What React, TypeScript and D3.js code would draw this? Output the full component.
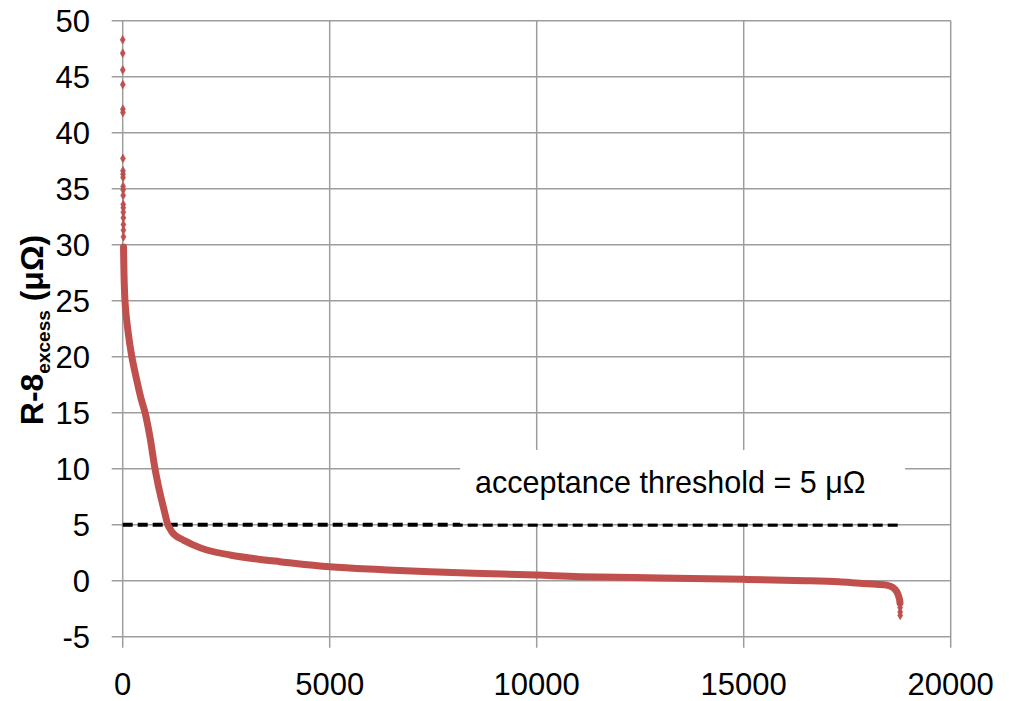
import * as d3 from 'd3';
import React from 'react';

// sorted R-8 excess values (sample index, value in µΩ)
const curveIndex = [20, 55, 120, 220, 340, 440, 540, 660, 780, 860, 940, 1020, 1090, 1150, 1200, 1300, 1465, 1700, 2030, 2590, 3316, 3800, 5000, 6200, 7420, 8700, 10000, 11050, 13000, 15000, 16500, 17300, 17800, 18200, 18450, 18600, 18700, 18760, 18775];
const curveValue = [29.8, 25, 22.5, 20, 17.9, 16.3, 15, 12.8, 10, 8.5, 7.2, 6.0, 5.0, 4.6, 4.3, 3.95, 3.63, 3.2, 2.74, 2.3, 1.9, 1.7, 1.25, 1.0, 0.8, 0.65, 0.5, 0.36, 0.25, 0.12, 0.0, -0.1, -0.23, -0.32, -0.4, -0.6, -1.0, -1.6, -2.0];

// isolated points at both ends
const outlierIndex = [0, 1, 2, 3, 4, 5, 6, 7, 8, 9, 10, 11, 12, 13, 14, 15, 16, 17, 18, 19, 18778, 18780, 18780];
const outlierValue = [48.3, 47.1, 45.6, 44.3, 42.1, 41.8, 37.7, 36.6, 36.3, 36.0, 35.2, 34.9, 34.4, 33.6, 33.3, 32.9, 32.4, 31.8, 31.3, 30.7, -2.4, -2.8, -3.1];

const xTicks = [0, 5000, 10000, 15000, 20000];
const yTicks = [-5, 0, 5, 10, 15, 20, 25, 30, 35, 40, 45, 50];

const threshold = 5;
const thresholdRange = [0, 18775];

const annotationLabel = 'acceptance threshold = 5 μΩ';

const font = "'Liberation Sans', Arial, sans-serif";
const red = '#C0504D';
const grid = '#9d9d9d';

export default function App() {
  const width = 1009;
  const height = 701;

  const x = d3.scaleLinear().domain([0, 20000]).range([122.7, 950.7]);
  const y = d3.scaleLinear().domain([-5, 50]).range([636.7, 20.7]);

  const points = curveIndex.map((d, i) => [d, curveValue[i]] as [number, number]);
  const line = d3
    .line<[number, number]>()
    .x((d) => x(d[0]))
    .y((d) => y(d[1]))
    .curve(d3.curveCatmullRom.alpha(0.5));

  const diamond = d3.symbol().type(d3.symbolDiamond).size(22)();

  // annotation box, in data units
  const boxX0 = x(8150);
  const boxX1 = x(18900);
  const boxY0 = y(11.67);
  const boxY1 = y(5.1);

  return (
    <svg
      width={width}
      height={height}
      style={{ position: 'absolute', left: 0, top: 0, background: '#fff' }}
    >
      {/* grid */}
      <g stroke={grid} strokeWidth={1.5}>
        {yTicks.map((t) => (
          <line key={'y' + t} x1={x(0) - 11} x2={x(20000)} y1={y(t)} y2={y(t)} />
        ))}
        {xTicks.map((t) => (
          <line key={'x' + t} x1={x(t)} x2={x(t)} y1={y(50)} y2={y(-5) + 11} />
        ))}
      </g>

      {/* tick labels */}
      <g fontFamily={font} fontSize={31} fill="#000">
        {yTicks.map((t) => (
          <text key={'yl' + t} x={90} y={y(t)} dy="0.36em" textAnchor="end">
            {t}
          </text>
        ))}
        {xTicks.map((t) => (
          <text key={'xl' + t} x={x(t)} y={695} textAnchor="middle">
            {t}
          </text>
        ))}
      </g>

      {/* threshold */}
      <line
        x1={x(thresholdRange[0])}
        x2={x(thresholdRange[1])}
        y1={y(threshold)}
        y2={y(threshold)}
        stroke="#000"
        strokeWidth={4}
        strokeDasharray="10,5"
      />

      {/* data */}
      <path d={line(points) || ''} fill="none" stroke={red} strokeWidth={7} strokeLinecap="round" strokeLinejoin="round" />
      <g fill={red} stroke="#b04a48" strokeWidth={0.5}>
        {outlierIndex.map((d, i) => (
          <path key={i} d={diamond || ''} transform={`translate(${x(d)},${y(outlierValue[i])})`} />
        ))}
      </g>

      {/* annotation */}
      <rect x={boxX0} y={boxY0} width={boxX1 - boxX0} height={boxY1 - boxY0} fill="#fff" />
      <text x={x(8510)} y={y(7.86)} fontFamily={font} fontSize={30.5} fill="#000">
        {annotationLabel}
      </text>

      {/* y axis title */}
      <text
        transform={`translate(43,330) rotate(-90)`}
        textAnchor="middle"
        fontFamily={font}
        fontWeight="bold"
        fontSize={32}
        fill="#000"
      >
        R-8
        <tspan fontSize={19} dy={7}>excess</tspan>
        <tspan dy={-7}> (μΩ)</tspan>
      </text>
    </svg>
  );
}
